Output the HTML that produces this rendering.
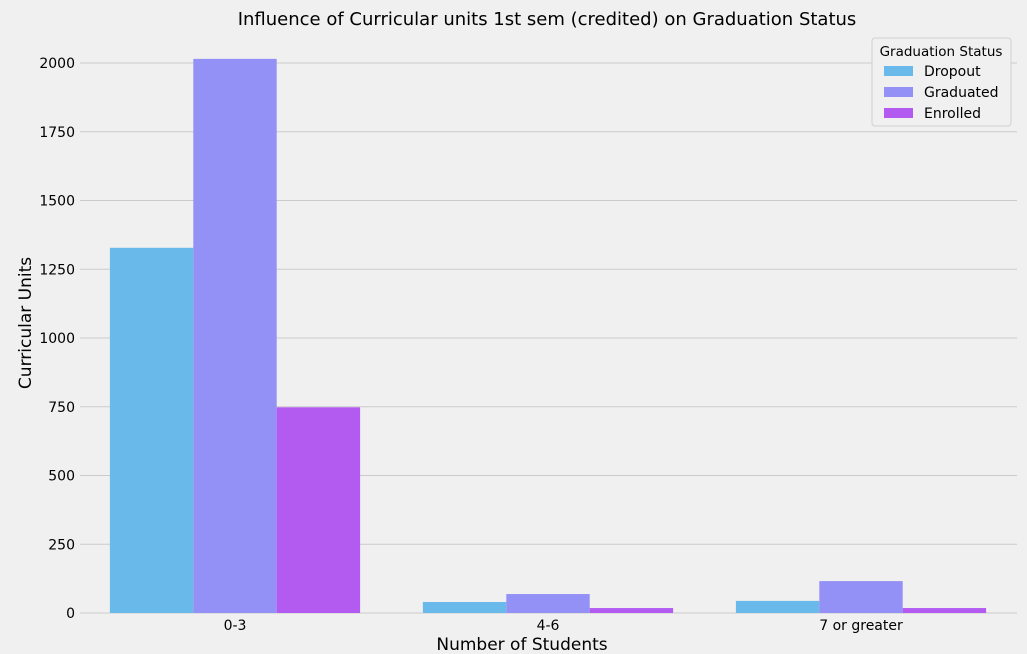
<!DOCTYPE html>
<html><head><meta charset="utf-8"><style>
body{margin:0;background:#f0f0f0;}
svg{display:block;font-family:"DejaVu Sans","Liberation Sans",sans-serif;}
</style></head><body>
<svg id="chart" width="1027" height="654">
<rect x="0" y="0" width="1027" height="654" fill="#f0f0f0"/>
<text x="547" y="25" text-anchor="middle" font-size="18" fill="#000">Influence of Curricular units 1st sem (credited) on Graduation Status</text>
<g id="grid"></g><g id="bars"></g><g id="xt"></g>
<text x="522" y="650" text-anchor="middle" font-size="17">Number of Students</text>
<text transform="translate(31,323) rotate(-90)" text-anchor="middle" font-size="17">Curricular Units</text>
<g>
<rect x="872" y="38" width="139" height="88" rx="3" fill="#f0f0f0" stroke="#d0d0d0"/>
<text x="941" y="56" text-anchor="middle" font-size="13.5">Graduation Status</text>
<g id="leg"></g>
</g>
</svg>
<script>
const categories=["0-3","4-6","7 or greater"];
const seriesNames=["Dropout","Graduated","Enrolled"];
const dropout=[1328,40,44];
const graduated=[2015,69,116];
const enrolled=[748,18,18];
const yTicks=[0,250,500,750,1000,1250,1500,1750,2000];
const colors=["#69b9eb","#9391f5","#b35af0"];
const NS="http://www.w3.org/2000/svg";
const y0=613,pxPer=550/2000;
const Y=v=>y0-v*pxPer;
const X=i=>235+i*313;
const bw=83.4;
function mk(t,a,p){const e=document.createElementNS(NS,t);for(const k in a)e.setAttribute(k,a[k]);p.appendChild(e);return e;}
const grid=document.getElementById('grid');
yTicks.forEach(t=>{
 const l=mk('line',{x1:80,x2:1017,y1:Y(t),y2:Y(t),stroke:'#cbcbcb','stroke-width':1},grid);
 
 
 const tx=mk('text',{x:75,y:Y(t)+5,'text-anchor':'end','font-size':14},grid);
 tx.textContent=t;
 
 
});
const series=[dropout,graduated,enrolled];
const bars=document.getElementById('bars');
series.forEach((s,si)=>{
 s.forEach((v,ci)=>{
  const r=mk('rect',{x:X(ci)-1.5*bw+si*bw,y:Y(v),width:bw,height:y0-Y(v),fill:colors[si]},bars);
  
  
 });
});
const xt=document.getElementById('xt');
categories.forEach((c,i)=>{
 const t=mk('text',{x:X(i),y:630,'text-anchor':'middle','font-size':14},xt);
 t.textContent=c;
 
 
});
const leg=document.getElementById('leg');
seriesNames.forEach((n,i)=>{
 const r=mk('rect',{x:884,y:66+i*21,width:29,height:10,fill:colors[i]},leg);
 
 
 const t=mk('text',{x:924,y:76+i*21,'font-size':14},leg);
 t.textContent=n;
 
 
});
</script>
</body></html>
